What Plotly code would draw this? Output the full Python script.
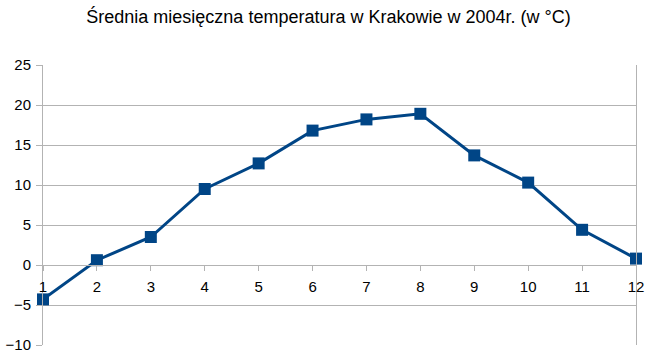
import plotly.graph_objects as go

months = [1, 2, 3, 4, 5, 6, 7, 8, 9, 10, 11, 12]
temps = [-4.3, 0.6, 3.5, 9.5, 12.7, 16.8, 18.2, 18.9, 13.7, 10.3, 4.4, 0.8]
title_text = "Średnia miesięczna temperatura w Krakowie w 2004r. (w °C)"
y_ticks = [-10, -5, 0, 5, 10, 15, 20, 25]

color = "#004586"
grid = "#b3b3b3"

fig = go.Figure()
fig.add_trace(go.Scatter(
    x=months, y=temps, mode="lines+markers",
    line=dict(color=color, width=3),
    marker=dict(symbol="square", size=12, color=color),
    cliponaxis=False, showlegend=False,
))

ymin, ymax = -10, 25
fig.update_layout(
    width=657, height=364,
    margin=dict(l=43, r=21, t=65, b=19),
    paper_bgcolor="white", plot_bgcolor="white",
    font=dict(family="Liberation Sans, Arial, sans-serif", color="#000000", size=14),
    title=dict(text=title_text, x=0.5, xanchor="center", y=0.955, yanchor="middle",
               font=dict(size=18, family="Liberation Sans, Arial, sans-serif", color="#000000")),
    xaxis=dict(range=[1, 12], tickvals=months, ticktext=[str(m) for m in months],
               showgrid=False, zeroline=False, showline=True, linecolor=grid, linewidth=1,
               ticks="outside", ticklen=5, tickcolor=grid, ticklabelstandoff=3,
               anchor="free", position=(0 - ymin) / (ymax - ymin), automargin=False,
               tickfont=dict(size=15)),
    yaxis=dict(range=[ymin, ymax], tickvals=y_ticks, showgrid=True, gridcolor=grid, gridwidth=1,
               zeroline=False, showline=True, linecolor=grid, linewidth=1, mirror=True,
               ticks="outside", ticklen=6, tickcolor=grid, ticklabelstandoff=2, automargin=False,
               tickfont=dict(size=15)),
)

fig.write_html("out.html")
